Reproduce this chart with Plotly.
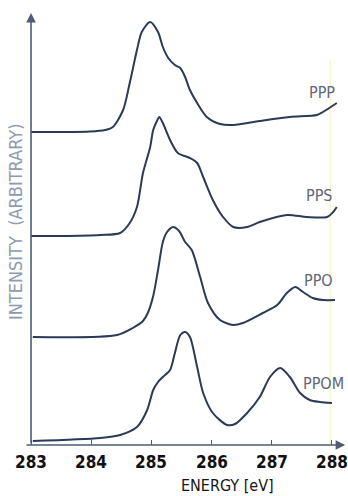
import plotly.graph_objects as go

# ---- data (energy in eV, intensity in arbitrary units relative to each baseline) ----
ppp_e = [283.00, 283.48, 283.98, 284.23, 284.36, 284.53, 284.64, 284.76, 284.84, 284.98,
         285.11, 285.19, 285.28, 285.39, 285.48, 285.56, 285.64, 285.76, 285.92, 286.14,
         286.36, 286.80, 287.30, 287.75, 287.85, 288.08]
ppp_i = [0, 0, 0.5, 2, 5, 22, 49, 82, 100, 110,
         100, 85, 74, 67, 64, 55, 42, 29, 15, 8,
         7, 11, 15, 17, 20, 29]

pps_e = [283.00, 283.48, 284.15, 284.48, 284.64, 284.76, 284.86, 284.98, 285.03, 285.10,
         285.13, 285.19, 285.31, 285.44, 285.64, 285.76, 285.86, 286.02, 286.19, 286.36,
         286.59, 286.80, 287.25, 287.58, 287.92, 288.02, 288.08]
pps_i = [0, 0, 1, 3, 13, 29, 63, 89, 106, 116,
         119, 113, 96, 83, 78, 73, 59, 36, 19, 9,
         9, 14, 21, 19, 19, 24, 29]

ppo_e = [283.03, 284.43, 284.69, 284.86, 284.94, 285.03, 285.11, 285.19, 285.26, 285.36,
         285.46, 285.56, 285.67, 285.81, 285.94, 286.14, 286.36, 286.52, 286.85, 287.09,
         287.25, 287.39, 287.52, 287.68, 287.85, 288.05]
ppo_i = [0, 2, 9, 16, 24, 41, 67, 95, 105, 110,
         106, 95, 87, 60, 34, 17, 12, 14, 24, 32,
         44, 50, 45, 39, 37, 37]

ppom_e = [283.03, 284.15, 284.48, 284.76, 284.93, 285.03, 285.11, 285.19, 285.31, 285.39,
          285.48, 285.56, 285.64, 285.76, 285.86, 286.02, 286.26, 286.39, 286.59, 286.80,
          286.97, 287.14, 287.30, 287.47, 287.63, 287.80, 288.00]
ppom_i = [0, 3, 6, 14, 31, 51, 59, 64, 71, 88,
          106, 109, 104, 74, 48, 28, 16, 17, 28, 44,
          64, 73, 64, 48, 41, 39, 38]

names = ["PPP", "PPS", "PPO", "PPOM"]
offsets = [313, 209, 108, 4]
tick_vals = [283, 284, 285, 286, 287, 288]
tick_text = ["283", "284", "285", "286", "287", "288"]

series = [(ppp_e, ppp_i), (pps_e, pps_i), (ppo_e, ppo_i), (ppom_e, ppom_i)]
label_pos = [(287.83, 353), (287.80, 250), (287.78, 165), (287.86, 62)]

LINE = "#2a3a57"
AXIS = "#4d5d75"
FONT = "DejaVu Sans Condensed"

fig = go.Figure()

# faint scan artefact line near 288
fig.add_shape(type="line", x0=287.97, x1=287.97, y0=0, y1=385, xref="x", yref="y",
              line=dict(color="rgba(238,232,160,0.7)", width=1), layer="below")

for (e, i), off, nm in zip(series, offsets, names):
    fig.add_trace(go.Scatter(x=e, y=[v + off for v in i], mode="lines", name=nm,
                             line=dict(color=LINE, width=2, shape="spline", smoothing=0.8),
                             hoverinfo="skip", showlegend=False))

for nm, (lx, ly) in zip(names, label_pos):
    fig.add_annotation(x=lx, y=ly, text=nm, showarrow=False, xanchor="center", yanchor="middle",
                       font=dict(family=FONT, size=16, color="#5f6676"))

# tick labels
for tv, tt in zip(tick_vals, tick_text):
    fig.add_annotation(x=tv, y=-0.039, xref="x", yref="paper", text=tt, showarrow=False,
                       xanchor="center", yanchor="middle",
                       font=dict(family=FONT, size=17, color="#111111", weight="bold"))

# axes with arrows
fig.add_annotation(x=288.22, y=0, ax=282.9, ay=0, axref="x", ayref="y", xref="x", yref="y",
                   text="", showarrow=True, arrowhead=2, arrowsize=1.2, arrowwidth=1.6,
                   arrowcolor=AXIS)
fig.add_annotation(x=283, y=432, ax=283, ay=0, axref="x", ayref="y", xref="x", yref="y",
                   text="", showarrow=True, arrowhead=2, arrowsize=1.2, arrowwidth=1.6,
                   arrowcolor=AXIS)

fig.add_annotation(x=286.27, y=-0.094, xref="x", yref="paper", text="ENERGY [eV]",
                   showarrow=False, xanchor="center", yanchor="middle",
                   font=dict(family=FONT, size=16, color="#151515"))
fig.add_annotation(x=-0.015, y=223, xref="paper", yref="y", text="INTENSITY  (ARBITRARY)",
                   showarrow=False, textangle=-90, xanchor="center", yanchor="middle",
                   font=dict(family=FONT, size=18, color="#8d9bb0"))

fig.update_xaxes(range=[282.817, 288.266], tickvals=tick_vals, showticklabels=False,
                 ticks="inside", ticklen=5, tickcolor=AXIS, tickwidth=1.4,
                 showgrid=False, zeroline=False, showline=False)
fig.update_yaxes(range=[0, 435], showticklabels=False, ticks="", showgrid=False,
                 zeroline=False, showline=False)

fig.update_layout(width=348, height=496, margin=dict(l=20, r=0, t=10, b=51),
                  plot_bgcolor="white", paper_bgcolor="white", showlegend=False)

fig.write_html("out.html")
